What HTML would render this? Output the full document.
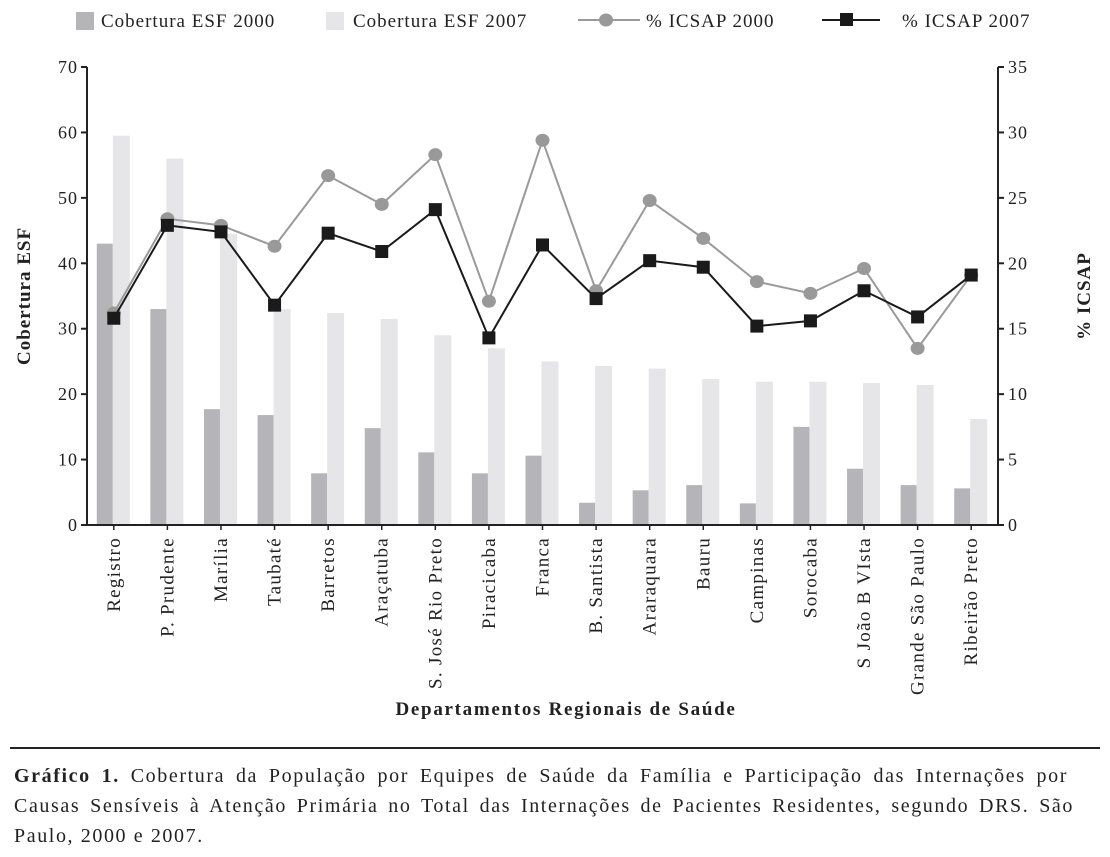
<!DOCTYPE html>
<html><head><meta charset="utf-8"><style>
body{margin:0;background:#fff;width:1110px;height:857px;overflow:hidden;font-family:"Liberation Serif",serif;}
svg{position:absolute;left:0;top:0}
svg text{letter-spacing:1px}
.cap{position:absolute;left:14px;top:761px;font-size:20px;line-height:30px;color:#222;letter-spacing:1.6px;white-space:nowrap}
.cap div{text-align:justify;text-align-last:justify}
</style></head><body>
<svg id="chart" width="1110" height="760"></svg>
<div class="cap">
<div style="width:1054px"><b>Gráfico 1.</b> Cobertura da População por Equipes de Saúde da Família e Participação das Internações por</div>
<div style="width:1060px">Causas Sensíveis à Atenção Primária no Total das Internações de Pacientes Residentes, segundo DRS. São</div>
<div style="text-align-last:left">Paulo, 2000 e 2007.</div>
</div>
<script>
const categories=["Registro","P. Prudente","Marília","Taubaté","Barretos","Araçatuba","S. José Rio Preto","Piracicaba","Franca","B. Santista","Araraquara","Bauru","Campinas","Sorocaba","S João B VIsta","Grande São Paulo","Ribeirão Preto"];
const esf2000=[43,33,17.7,16.8,7.9,14.8,11.1,7.9,10.6,3.4,5.3,6.1,3.3,15,8.6,6.1,5.6];
const esf2007=[59.5,56,44.5,33,32.4,31.5,29,27,25,24.3,23.9,22.3,21.9,21.9,21.7,21.4,16.2];
const icsap2000=[16.2,23.4,22.9,21.3,26.7,24.5,28.3,17.1,29.4,17.9,24.8,21.9,18.6,17.7,19.6,13.5,19.1];
const icsap2007=[15.8,22.9,22.4,16.8,22.3,20.9,24.1,14.3,21.4,17.3,20.2,19.7,15.2,15.6,17.9,15.9,19.1];
const leftTicks=[0,10,20,30,40,50,60,70];
const rightTicks=[0,5,10,15,20,25,30,35];
const svg=document.getElementById('chart');const NS='http://www.w3.org/2000/svg';
const X0=87,X1=998,Y0=525,Y1=67;
const step=(X1-X0)/categories.length;
const xc=i=>X0+step*(i+0.5);
const yl=v=>Y0-(v/70)*(Y0-Y1);
const yr=v=>Y0-(v/35)*(Y0-Y1);
function el(t,a,p){const e=document.createElementNS(NS,t);for(const k in a)e.setAttribute(k,a[k]);(p||svg).appendChild(e);return e;}
function txt(s,a){const e=el('text',a);e.textContent=s;return e;}
esf2000.forEach((v,i)=>{const r=el('rect',{x:xc(i)-17,y:yl(v),width:16,height:Y0-yl(v),fill:'#b4b4b9'});

});
esf2007.forEach((v,i)=>{const r=el('rect',{x:xc(i)-1,y:yl(v),width:17,height:Y0-yl(v),fill:'#e6e6e8'});

});
function line(data,color,marker,name){
 const p=el('polyline',{points:data.map((v,i)=>xc(i)+','+yr(v)).join(' '),fill:'none',stroke:color,'stroke-width':2});
 
 
 data.forEach((v,i)=>{let m;
  if(marker==='c')m=el('ellipse',{cx:xc(i),cy:yr(v),rx:7,ry:6.5,fill:'#999'});
  else m=el('rect',{x:xc(i)-6.5,y:yr(v)-6.5,width:13,height:13,fill:'#1a1a1a'});
  
  });
}
line(icsap2000,'#9a9a9a','c','icsap-2000');
line(icsap2007,'#1a1a1a','s','icsap-2007');
el('line',{x1:X0,y1:Y1,x2:X0,y2:Y0,stroke:'#222','stroke-width':2});
el('line',{x1:X1,y1:Y1,x2:X1,y2:Y0,stroke:'#222','stroke-width':2});
el('line',{x1:X0,y1:Y0,x2:X1,y2:Y0,stroke:'#222','stroke-width':2});
leftTicks.forEach(t=>{el('line',{x1:X0-6,y1:yl(t),x2:X0,y2:yl(t),stroke:'#222','stroke-width':2});
 const e=txt(String(t),{x:X0-9,y:yl(t)+6,'text-anchor':'end','font-size':18,fill:'#222'});
 
 });
rightTicks.forEach(t=>{el('line',{x1:X1,y1:yr(t),x2:X1+6,y2:yr(t),stroke:'#222','stroke-width':2});
 const e=txt(String(t),{x:X1+10,y:yr(t)+6,'font-size':18,fill:'#222'});
 
 });
categories.forEach((c,i)=>{const x=xc(i)+6;
 el('line',{x1:xc(i),y1:Y0,x2:xc(i),y2:Y0+5,stroke:'#222','stroke-width':1.5});
 const e=txt(c,{x:0,y:0,transform:`translate(${x},${Y0+12}) rotate(-90)`,'text-anchor':'end','font-size':19,fill:'#222','style':'letter-spacing:1.3px'});
 
 });
let e=txt('Cobertura ESF',{transform:'translate(30,296) rotate(-90)','text-anchor':'middle','font-size':19,'font-weight':'bold',fill:'#222'});

e=txt('% ICSAP',{transform:'translate(1090,296) rotate(-90)','text-anchor':'middle','font-size':19,'font-weight':'bold',fill:'#222'});

e=txt('Departamentos Regionais de Saúde',{x:566,y:715,'text-anchor':'middle','font-size':19,'font-weight':'bold',fill:'#222','style':'letter-spacing:1.7px'});

el('rect',{x:76,y:12,width:18,height:18,fill:'#b4b4b9'});
e=txt('Cobertura ESF 2000',{x:101,y:27,'font-size':19,fill:'#222','style':'letter-spacing:1px'});
el('rect',{x:326,y:12,width:18,height:18,fill:'#e6e6e8'});
e=txt('Cobertura ESF 2007',{x:353,y:27,'font-size':19,fill:'#222','style':'letter-spacing:1px'});
el('line',{x1:578,y1:20,x2:640,y2:20,stroke:'#9a9a9a','stroke-width':2});
el('ellipse',{cx:606,cy:20,rx:7,ry:6.5,fill:'#999'});
e=txt('% ICSAP 2000',{x:646,y:27,'font-size':19,fill:'#222','style':'letter-spacing:1px'});
el('line',{x1:822,y1:20,x2:880,y2:20,stroke:'#1a1a1a','stroke-width':2});
el('rect',{x:840,y:13,width:13,height:13,fill:'#1a1a1a'});
e=txt('% ICSAP 2007',{x:902,y:27,'font-size':19,fill:'#222','style':'letter-spacing:1px'});
el('line',{x1:10,y1:748,x2:1100,y2:748,stroke:'#222','stroke-width':2});
</script>
</body></html>
